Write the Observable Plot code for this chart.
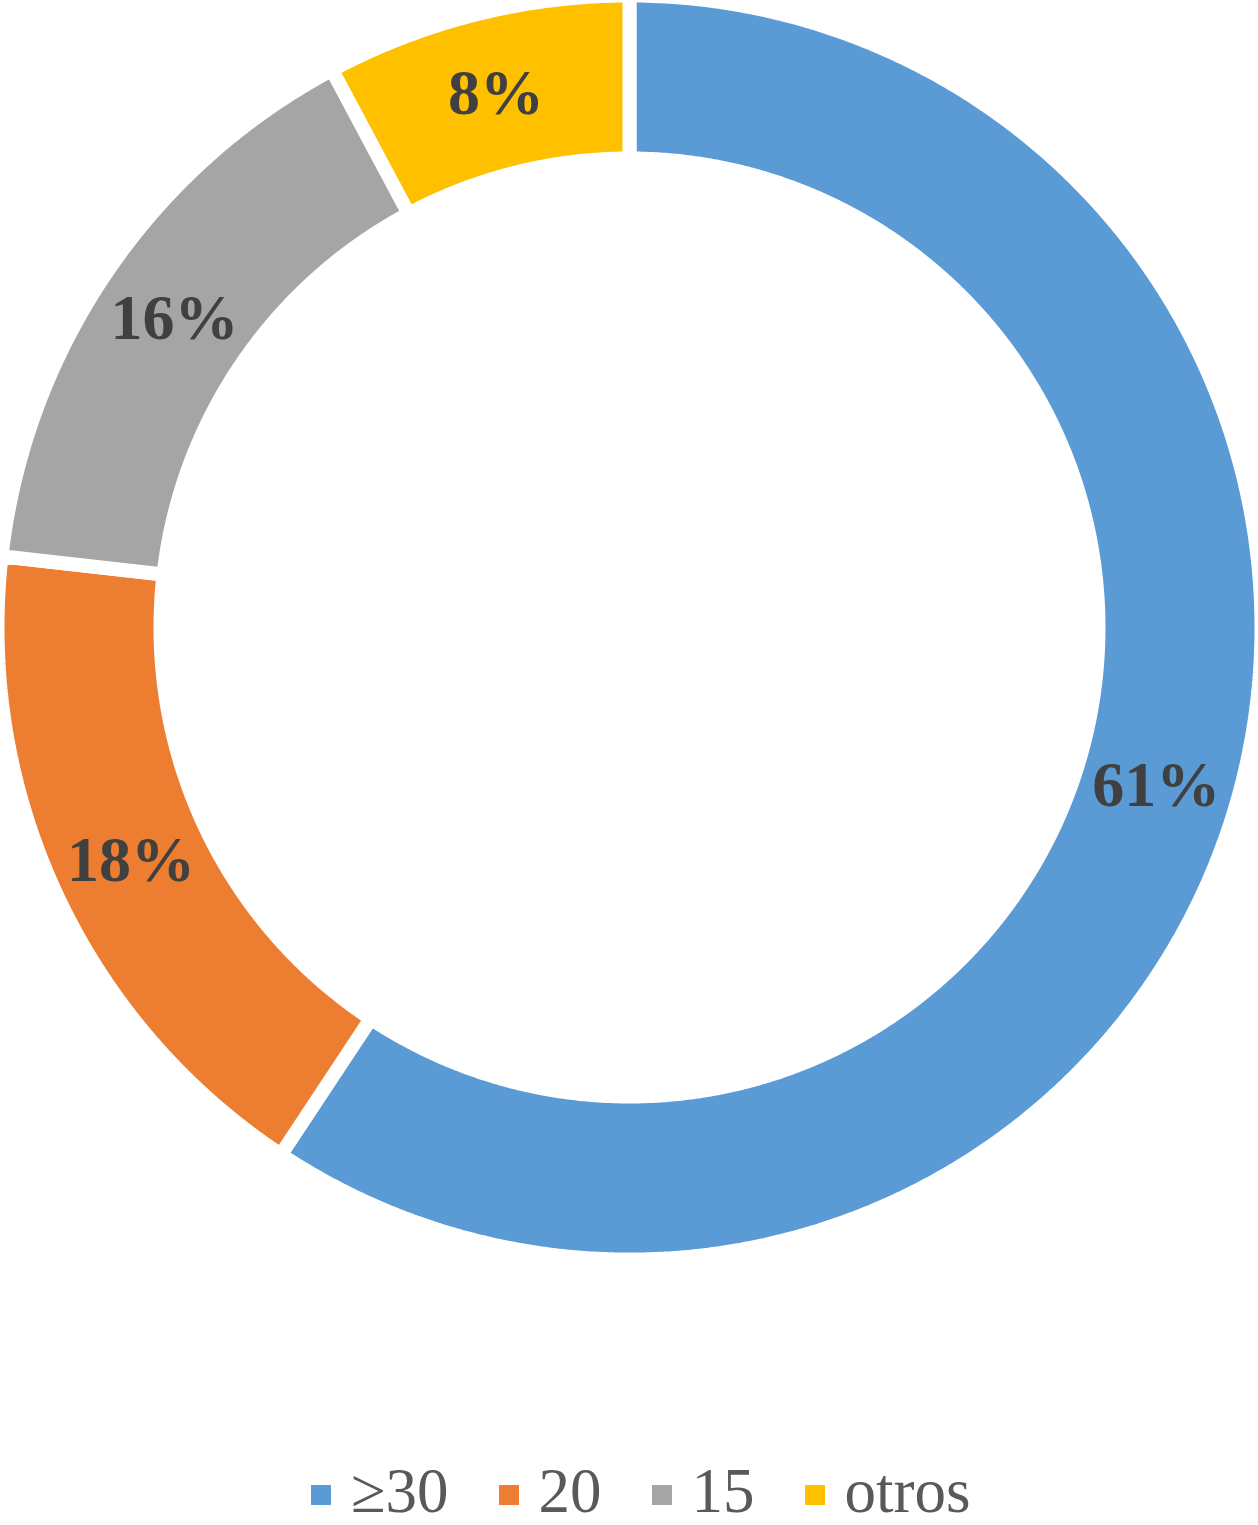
<!DOCTYPE html>
<html>
<head>
<meta charset="utf-8">
<script src="https://cdn.jsdelivr.net/npm/d3@7"></script>
<script src="https://cdn.jsdelivr.net/npm/@observablehq/plot@0.6"></script>
<style>
  html, body { margin: 0; padding: 0; background: #fff; }
  #wrap { position: relative; width: 1258px; height: 1525px; }
  #legend { position: absolute; left: 311px; top: 1460px; display: flex; align-items: center;
    font-family: "Liberation Serif", "Times New Roman", serif; font-size: 63px; line-height: 62px; color: #595959; }
  .item { display: flex; align-items: center; margin-right: 50px; }
  .sw { width: 20px; height: 20px; margin-right: 20px; margin-top: 8px; }
</style>
</head>
<body>
<div id="wrap">
  <div id="chart"></div>
  <div id="legend"></div>
</div>
<script>
const categories = ["≥30", "20", "15", "otros"];
const values = [59.3, 17.5, 15.4, 7.8];
const labels = ["61%", "18%", "16%", "8%"];
const colors = ["#5B9BD5", "#ED7D31", "#A5A5A5", "#FFC000"];

const outerR = 632, innerR = 469, labelR = 550;

const pie = d3.pie().sort(null).value(d => d.value);
const arcs = pie(categories.map((c, i) => ({category: c, value: values[i], label: labels[i]})));

// polygon outlines of each slice (angle clockwise from 12 o'clock)
const ring = [];
arcs.forEach(a => {
  const n = Math.max(8, Math.ceil((a.endAngle - a.startAngle) / 0.005));
  for (let k = 0; k <= n; k++) {
    const t = a.startAngle + (a.endAngle - a.startAngle) * k / n;
    ring.push({category: a.data.category, x: outerR * Math.sin(t), y: outerR * Math.cos(t)});
  }
  for (let k = n; k >= 0; k--) {
    const t = a.startAngle + (a.endAngle - a.startAngle) * k / n;
    ring.push({category: a.data.category, x: innerR * Math.sin(t), y: innerR * Math.cos(t)});
  }
});
const labelPts = arcs.map(a => {
  const t = (a.startAngle + a.endAngle) / 2;
  return {label: a.data.label, x: labelR * Math.sin(t), y: labelR * Math.cos(t)};
});

const chart = Plot.plot({
  width: 1258,
  height: 1290,
  margin: 0,
  x: {domain: [-629, 629], range: [0, 1258], axis: null},
  y: {domain: [-627, 627], range: [1254, 0], axis: null},
  color: {domain: categories, range: colors},
  style: {background: "white"},
  marks: [
    Plot.line(ring, {x: "x", y: "y", z: "category", fill: "category", stroke: "white",
      strokeWidth: 14, curve: "linear-closed", strokeLinejoin: "miter"}),
    Plot.text(labelPts, {x: "x", y: "y", text: "label", fill: "#404040",
      fontSize: 64, fontWeight: "bold", fontFamily: "Liberation Serif, Times New Roman, serif"})
  ]
});
document.getElementById("chart").appendChild(chart);

const legend = document.getElementById("legend");
categories.forEach((c, i) => {
  const item = document.createElement("div");
  item.className = "item";
  const sw = document.createElement("div");
  sw.className = "sw";
  sw.style.background = colors[i];
  const tx = document.createElement("span");
  tx.textContent = c;
  item.appendChild(sw);
  item.appendChild(tx);
  legend.appendChild(item);
});
</script>
</body>
</html>
